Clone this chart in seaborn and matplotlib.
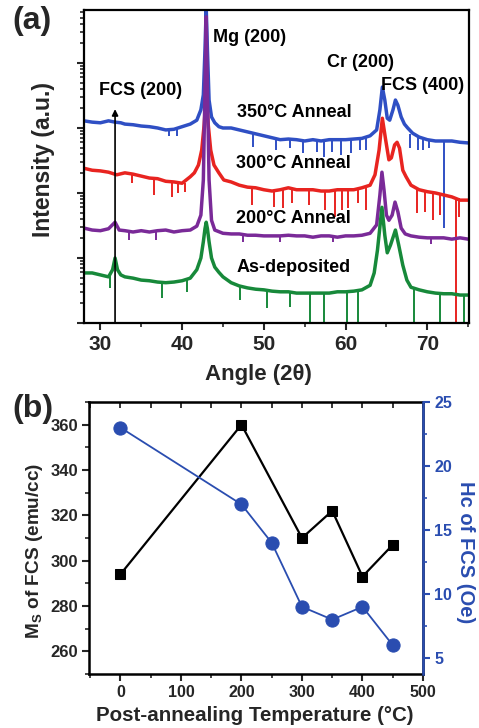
import numpy as np
import matplotlib
matplotlib.use("Agg")
import matplotlib.pyplot as plt
import seaborn as sns
from matplotlib.ticker import MultipleLocator, LogLocator, NullFormatter

sns.set_style("ticks")
plt.rcParams["font.family"] = ["Liberation Sans", "DejaVu Sans"]
plt.rcParams["font.weight"] = "bold"
plt.rcParams["mathtext.fontset"] = "custom"
plt.rcParams["mathtext.rm"] = "Liberation Sans:bold"
plt.rcParams["mathtext.bf"] = "Liberation Sans:bold"
plt.rcParams["mathtext.it"] = "Liberation Sans:bold"

# ---------------- (a) XRD patterns: 2-theta (deg) and log10 intensity (a.u., stacked) -------------
angle_350 = [28, 29, 30, 31, 31.8, 32.5, 33, 34, 35, 36, 37, 38, 39, 40, 41, 41.8, 42.3, 42.6,
             42.8, 42.95, 43.1, 43.3, 43.6, 44, 44.5, 45, 46, 47, 48, 49, 50, 51, 52, 53, 54,
             55, 56, 57, 58, 59, 60, 61, 62, 63, 63.8, 64.2, 64.5, 64.8, 65.1, 65.4, 65.8, 66.1,
             66.4, 66.8, 67.2, 67.6, 68.2, 69, 70, 71, 72, 73, 74, 75]
logI_350 = [3.11, 3.09, 3.08, 3.11, 3.09, 3.08, 3.06, 3.05, 3.03, 3.02, 3.00, 2.97, 2.98, 3.02,
            3.06, 3.12, 3.28, 3.51, 4.20, 4.85, 4.20, 3.43, 3.17, 3.08, 3.02, 3.00, 3.00, 2.97,
            2.94, 2.91, 2.88, 2.85, 2.82, 2.83, 2.82, 2.80, 2.82, 2.80, 2.82, 2.82, 2.82, 2.83,
            2.84, 2.88, 2.97, 3.28, 3.63, 3.43, 3.15, 3.12, 3.28, 3.43, 3.35, 3.17, 3.06, 3.00,
            2.92, 2.86, 2.82, 2.80, 2.80, 2.80, 2.78, 2.77]
# narrow downward noise spikes: angle, upper and lower log10 intensity
spike_angle_350 = [38.4, 39.4, 48.7, 51.5, 53.2, 54.8, 56.5, 57.4, 58.4, 59.5, 60.7, 61.8,
                   62.5, 67.9, 68.8, 69.5, 70.2, 72.1]
spike_top_350 = [2.97, 2.98, 2.92, 2.85, 2.83, 2.82, 2.82, 2.81, 2.82, 2.82, 2.82, 2.83,
                 2.86, 2.90, 2.86, 2.84, 2.82, 2.80]
spike_low_350 = [2.88, 2.88, 2.71, 2.66, 2.69, 2.62, 2.63, 2.55, 2.63, 2.58, 2.62, 2.66,
                 2.66, 2.69, 2.66, 2.66, 2.69, 1.46]

angle_300 = [28, 29, 30, 31, 32, 33, 34, 35, 36, 37, 38, 39, 40, 41, 41.5, 42, 42.4, 42.7,
             42.95, 43.2, 43.5, 43.9, 44.5, 45.1, 46, 47, 48, 49, 50, 51, 52, 53, 54, 55, 56,
             57, 58, 59, 60, 61, 62, 63, 63.6, 64.1, 64.5, 64.9, 65.3, 65.6, 66, 66.3, 66.6,
             67, 67.4, 68, 69, 70, 71, 72, 73, 74, 75]
logI_300 = [2.38, 2.35, 2.34, 2.32, 2.28, 2.31, 2.29, 2.26, 2.23, 2.22, 2.18, 2.17, 2.15, 2.25,
            2.31, 2.43, 2.66, 3.05, 3.51, 3.05, 2.66, 2.43, 2.31, 2.20, 2.17, 2.12, 2.09, 2.08,
            2.05, 2.03, 2.05, 2.08, 2.05, 2.05, 2.05, 2.03, 2.03, 2.05, 2.05, 2.05, 2.08, 2.12,
            2.28, 2.66, 3.15, 2.82, 2.51, 2.54, 2.74, 2.78, 2.69, 2.35, 2.25, 2.12, 2.05, 2.02,
            2.00, 1.97, 1.94, 1.89, 1.89]
spike_angle_300 = [33.9, 36.6, 38.8, 39.5, 40.4, 48.5, 51.3, 52.3, 53.5, 55.5, 57.5, 58.7,
                   59.6, 60.3, 61.5, 62.5, 68.7, 69.7, 70.7, 71.5, 73.5, 73.9]
spike_top_300 = [2.29, 2.23, 2.18, 2.17, 2.15, 2.10, 2.03, 2.05, 2.07, 2.05, 2.04, 2.04,
                 2.05, 2.05, 2.06, 2.09, 2.08, 2.04, 2.01, 2.00, 1.94, 1.92]
spike_low_300 = [2.15, 1.97, 1.94, 2.00, 2.02, 1.82, 1.78, 1.77, 1.85, 1.82, 1.74, 1.63,
                 1.74, 1.77, 1.85, 1.74, 1.69, 1.71, 1.58, 1.66, -0.10, 1.63]

angle_200 = [28, 29, 30, 31, 31.8, 32.3, 33, 34, 35, 36, 37, 38, 39, 40, 41, 41.8, 42.3, 42.6,
             42.8, 42.95, 43.1, 43.3, 43.6, 44, 45, 46, 47, 48, 49, 50, 51, 52, 53, 54, 55, 56,
             57, 58, 59, 60, 61, 62, 63, 63.8, 64.2, 64.45, 64.7, 65, 65.3, 65.7, 66.05, 66.4,
             66.8, 67.3, 68, 69, 70, 71, 72, 73, 74, 75]
logI_200 = [1.46, 1.43, 1.42, 1.45, 1.55, 1.43, 1.42, 1.40, 1.42, 1.40, 1.42, 1.43, 1.40, 1.42,
            1.43, 1.49, 1.66, 2.20, 3.58, 4.71, 3.58, 2.20, 1.58, 1.43, 1.38, 1.37, 1.37, 1.35,
            1.35, 1.34, 1.34, 1.34, 1.35, 1.34, 1.34, 1.32, 1.34, 1.34, 1.32, 1.34, 1.34, 1.35,
            1.38, 1.51, 1.97, 2.32, 2.05, 1.66, 1.58, 1.66, 1.86, 1.71, 1.46, 1.37, 1.34, 1.32,
            1.31, 1.31, 1.31, 1.29, 1.31, 1.29]
spike_angle_200 = [33.5, 36.8, 47.5, 52.0, 58.5, 70.5]
spike_top_200 = [1.41, 1.41, 1.37, 1.34, 1.33, 1.31]
spike_low_200 = [1.28, 1.28, 1.25, 1.24, 1.24, 1.22]

angle_asdep = [28, 29, 30, 31, 31.5, 31.8, 32.1, 32.5, 33, 34, 35, 36, 37, 38, 39, 40, 41, 41.8,
               42.3, 42.6, 42.8, 42.95, 43.1, 43.3, 43.6, 44, 44.5, 45, 46, 47, 48, 49, 50, 51,
               52, 53, 54, 55, 56, 57, 58, 59, 60, 61, 62, 63, 63.5, 63.9, 64.45, 64.8, 65.1,
               65.5, 66.1, 66.5, 67, 67.5, 68, 69, 70, 71, 72, 73, 74, 75]
logI_asdep = [0.77, 0.77, 0.74, 0.71, 0.82, 1.00, 0.82, 0.74, 0.71, 0.69, 0.66, 0.65, 0.63,
              0.62, 0.63, 0.65, 0.69, 0.82, 1.00, 1.25, 1.45, 1.55, 1.45, 1.25, 1.00, 0.86,
              0.78, 0.71, 0.62, 0.57, 0.54, 0.52, 0.51, 0.49, 0.48, 0.48, 0.46, 0.46, 0.46,
              0.46, 0.46, 0.48, 0.48, 0.49, 0.51, 0.58, 0.77, 1.12, 1.78, 1.35, 1.08, 1.20,
              1.43, 1.20, 0.89, 0.66, 0.55, 0.51, 0.48, 0.46, 0.45, 0.45, 0.43, 0.43]
spike_angle_asdep = [31.2, 37.6, 40.6, 47.1, 50.4, 53.2, 55.6, 57.4, 60.2, 61.5, 68.4, 71.5, 74.5]
spike_top_asdep = [0.75, 0.63, 0.66, 0.57, 0.51, 0.48, 0.46, 0.46, 0.48, 0.49, 0.53, 0.46, 0.43]
spike_low_asdep = [0.54, 0.38, 0.48, 0.35, 0.23, 0.25, -0.11, -0.11, -0.11, -0.11, -0.11,
                   -0.11, -0.11]

pattern_labels = ["350°C Anneal", "300°C Anneal", "200°C Anneal", "As-deposited"]
peak_labels = ["FCS (200)", "Mg (200)", "Cr (200)", "FCS (400)"]
fcs200_angle = 31.8

# ---------------- (b) magnetic properties vs post-annealing temperature ----------------
temp_ms = [0, 200, 300, 350, 400, 450]
ms_values = [294, 360, 310, 322, 293, 307]
temp_hc = [0, 200, 250, 300, 350, 400, 450]
hc_values = [23, 17, 14, 9, 8, 9, 6]

C_BLUE = "#2f4fc4"
C_RED = "#e82420"
C_PURPLE = "#7a2a98"
C_GREEN = "#17893a"
C_AXBLUE = "#2a4db0"

fig = plt.figure(figsize=(4.79, 7.28), dpi=100)

# ---------------- panel (a) ----------------
ax1 = fig.add_axes([84 / 479, 1 - 323 / 728, 385 / 479, 313 / 728])
series = [
    (angle_350, logI_350, spike_angle_350, spike_top_350, spike_low_350, C_BLUE),
    (angle_300, logI_300, spike_angle_300, spike_top_300, spike_low_300, C_RED),
    (angle_200, logI_200, spike_angle_200, spike_top_200, spike_low_200, C_PURPLE),
    (angle_asdep, logI_asdep, spike_angle_asdep, spike_top_asdep, spike_low_asdep, C_GREEN),
]
for k, (ang, logi, s_ang, s_top, s_low, col) in enumerate(series):
    z = 2 + 0.1 * k
    sns.lineplot(x=np.asarray(ang), y=10 ** np.asarray(logi), ax=ax1, color=col,
                 lw=2.5, estimator=None, sort=False, legend=False, zorder=z)
    ax1.vlines(s_ang, 10 ** np.asarray(s_low), 10 ** np.asarray(s_top), color=col,
               lw=1.4, zorder=z + 0.05)
ax1.set_yscale("log")
ax1.set_xlim(28, 75.1)
ax1.set_ylim(1, 10 ** 4.815)
ax1.xaxis.set_major_locator(MultipleLocator(10))
ax1.xaxis.set_minor_locator(MultipleLocator(5))
ax1.yaxis.set_major_locator(LogLocator(base=10, numticks=12))
ax1.yaxis.set_minor_locator(LogLocator(base=10, subs=np.arange(2, 10), numticks=12))
ax1.yaxis.set_major_formatter(NullFormatter())
ax1.yaxis.set_minor_formatter(NullFormatter())
ax1.tick_params(axis="both", which="major", direction="out", length=5, width=1.5,
                labelsize=15, pad=4)
ax1.tick_params(axis="both", which="minor", direction="out", length=3, width=1.2)
for lab in ax1.get_xticklabels():
    lab.set_fontweight("bold")
for sp in ax1.spines.values():
    sp.set_linewidth(1.6)
    sp.set_color("black")

ax1.set_xlabel("Angle (2θ)", fontsize=16, fontweight="bold")
ax1.set_ylabel("Intensity (a.u.)", fontsize=16.5, fontweight="bold")
ax1.xaxis.label.set(va="center", ha="center")
ax1.yaxis.label.set(va="center", ha="center")
ax1.xaxis.set_label_coords(0.452, -0.163)
ax1.yaxis.set_label_coords(-0.104, 0.521)

ax1.annotate("", xy=(fcs200_angle, 10 ** 3.29), xytext=(fcs200_angle, 1.0),
             arrowprops=dict(arrowstyle="-|>", color="black", lw=1.2, mutation_scale=9,
                             shrinkA=0, shrinkB=0), zorder=10)

txt = dict(transform=ax1.transAxes, ha="center", va="center", fontsize=13,
           fontweight="bold", color="black", zorder=11)
ax1.text(0.148, 0.744, peak_labels[0], **txt)
ax1.text(0.431, 0.911, peak_labels[1], **txt)
ax1.text(0.717, 0.831, peak_labels[2], **txt)
ax1.text(0.880, 0.760, peak_labels[3], **txt)
for yf, lab in zip([0.671, 0.508, 0.335, 0.176], pattern_labels):
    ax1.text(0.545, yf, lab, **txt)

fig.text(12 / 479, 1 - 6 / 728, "(a)", fontsize=23, fontweight="bold", ha="left", va="top")

# ---------------- panel (b) ----------------
ax2 = fig.add_axes([89 / 479, 1 - 674 / 728, 334 / 479, 272 / 728])
sns.lineplot(x=temp_ms, y=ms_values, ax=ax2, color="black", lw=1.6, marker="s",
             markersize=7.5, markeredgecolor="black", estimator=None, legend=False)
ax2.set_xlim(-52, 500)
ax2.set_ylim(250, 370)
ax2.xaxis.set_major_locator(MultipleLocator(100))
ax2.xaxis.set_minor_locator(MultipleLocator(50))
ax2.yaxis.set_minor_locator(MultipleLocator(10))
ax2.set_yticks(range(260, 361, 20))
ax2.tick_params(axis="both", which="major", direction="out", length=5, width=1.5, pad=3)
ax2.tick_params(axis="x", which="major", labelsize=11.5)
ax2.tick_params(axis="y", which="major", labelsize=12)
ax2.tick_params(axis="both", which="minor", direction="out", length=3, width=1.2)
for lab in ax2.get_xticklabels() + ax2.get_yticklabels():
    lab.set_fontweight("bold")
for sp in ax2.spines.values():
    sp.set_linewidth(1.8)
    sp.set_color("black")

top = ax2.secondary_xaxis("top")
top.xaxis.set_major_locator(MultipleLocator(100))
top.xaxis.set_minor_locator(MultipleLocator(50))
top.tick_params(axis="x", which="both", direction="in", length=4, width=1.3,
                labeltop=False)

ax3 = ax2.twinx()
sns.lineplot(x=temp_hc, y=hc_values, ax=ax3, color=C_AXBLUE, lw=1.3, marker="o",
             markersize=9.5, markeredgecolor=C_AXBLUE, estimator=None, legend=False)
ax3.set_ylim(3.75, 25)
ax3.yaxis.set_major_locator(MultipleLocator(5))
ax3.yaxis.set_minor_locator(MultipleLocator(2.5))
ax3.tick_params(axis="y", which="major", direction="out", length=5, width=1.5,
                labelsize=11.5, colors=C_AXBLUE, pad=3)
ax3.tick_params(axis="y", which="minor", direction="out", length=3, width=1.2,
                colors=C_AXBLUE)
for lab in ax3.get_yticklabels():
    lab.set_fontweight("bold")
ax3.spines["right"].set_color(C_AXBLUE)
ax3.spines["right"].set_linewidth(1.8)
for s in ["left", "top", "bottom"]:
    ax3.spines[s].set_visible(False)

ax2.set_xlabel("Post-annealing Temperature (°C)", fontsize=14.8, fontweight="bold")
ax2.set_ylabel("M$_\\mathregular{S}$ of FCS (emu/cc)", fontsize=13.7, fontweight="bold")
ax3.set_ylabel("Hc of FCS (Oe)", fontsize=14.5, fontweight="bold", color=C_AXBLUE,
               rotation=270)
ax2.xaxis.label.set(va="center", ha="center")
ax2.yaxis.label.set(va="center", ha="center")
ax3.yaxis.label.set(va="center", ha="center")
ax2.xaxis.set_label_coords(0.497, -0.151)
ax2.yaxis.set_label_coords(-0.162, 0.452)
ax3.yaxis.set_label_coords(1.126, 0.449)

fig.text(12 / 479, 1 - 394 / 728, "(b)", fontsize=23, fontweight="bold", ha="left", va="top")

fig.savefig("out.png", dpi=100)
